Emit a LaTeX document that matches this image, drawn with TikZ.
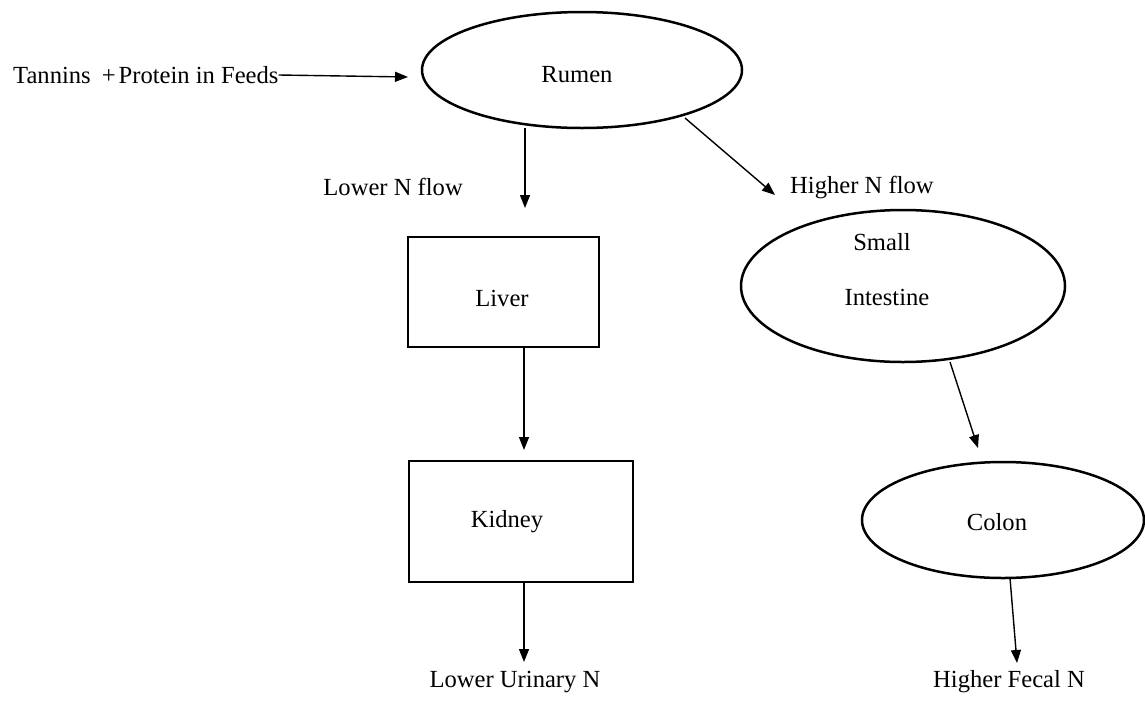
\documentclass[tikz,border=0pt]{standalone}
\usepackage{fontspec}
\setmainfont{Liberation Serif}
\usetikzlibrary{arrows.meta,shapes.geometric,calc}
\begin{document}
\begin{tikzpicture}[x=1pt,y=-1pt,
  arr/.style={line width=1.4pt,-{Triangle[length=13pt,width=10pt]}},
  oval/.style={draw,line width=2.5pt,ellipse,inner sep=0pt},
  box/.style={draw,line width=2.5pt,inner sep=0pt},
  txt/.style={font=\fontsize{24.6}{28}\selectfont,inner sep=0pt}]
\useasboundingbox (0,0) rectangle (1145,702);
% nodes
\node[txt,anchor=west] (feed) at (13,75) {Tannins\hspace{0.45em}+\hspace{0.12em}Protein in Feeds};
\node[oval,minimum width=320pt,minimum height=116pt] (rumen) at (582,70) {};
\node[txt] (rumt) at (577,75) {Rumen};
\node[txt,anchor=east] (lowflow) at (463,187) {Lower N flow};
\node[txt,anchor=west] (highflow) at (790,187) {Higher N flow};
\node[box,minimum width=191pt,minimum height=110pt] (liver) at (503.5,292) {};
\node[txt] (livt) at (502,298) {Liver};
\node[box,minimum width=224pt,minimum height=121pt] (kidney) at (521,521.5) {};
\node[txt] (kidt) at (507,522) {Kidney};
\node[txt] (urin) at (515,682) {Lower Urinary N};
\node[oval,minimum width=324pt,minimum height=152pt] (si) at (903,286) {};
\node[txt] (sit1) at (882,242) {Small};
\node[txt] (sit2) at (887,297) {Intestine};
\node[oval,minimum width=282pt,minimum height=116pt] (colon) at (1003,520) {};
\node[txt] (colt) at (997,522) {Colon};
\node[txt] (fecal) at (1009,682) {Higher Fecal N};
% free ends
\coordinate (feedend) at (408,77);
\coordinate (r1s) at (525,128);
\coordinate (r1e) at (525,208);
\coordinate (r2s) at (685,118);
\coordinate (r2e) at (775,195);
\coordinate (l1s) at (524,347);
\coordinate (l1e) at (524,450);
\coordinate (k1s) at (524,582);
\coordinate (k1e) at (524,662);
\coordinate (s1s) at (950,362);
\coordinate (s1e) at (978,448);
\coordinate (c1s) at (1010,578);
\coordinate (c1e) at (1017,663);
% connectors
\draw[arr] (feed.east) -- (feedend);
\draw[arr] (r1s) -- (r1e);
\draw[arr] (r2s) -- (r2e);
\draw[arr] (l1s) -- (l1e);
\draw[arr] (k1s) -- (k1e);
\draw[arr] (s1s) -- (s1e);
\draw[arr] (c1s) -- (c1e);
\end{tikzpicture}
\end{document}
